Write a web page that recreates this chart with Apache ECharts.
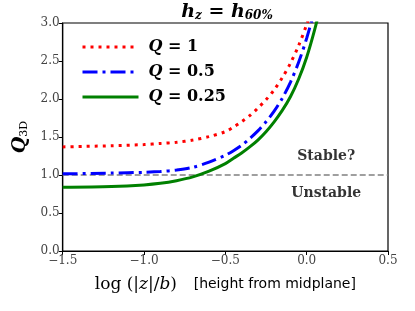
<!DOCTYPE html>
<html>
<head>
<meta charset="utf-8">
<script src="https://cdn.jsdelivr.net/npm/echarts@6/dist/echarts.min.js"></script>
<style>html,body{margin:0;padding:0;background:#fff}#c{width:415px;height:311px}</style>
</head>
<body>
<div id="c"></div>
<script>
const xVals   = [-1.5, -1.2, -1.0, -0.9, -0.8, -0.7, -0.6, -0.5, -0.45, -0.4, -0.35, -0.3, -0.25, -0.2, -0.15, -0.1, -0.05, 0.0, 0.05, 0.1];
const q1Vals  = [1.37, 1.385, 1.40, 1.415, 1.43, 1.46, 1.505, 1.57, 1.63, 1.70, 1.78, 1.88, 1.99, 2.12, 2.28, 2.47, 2.70, 2.98, 3.30, 3.65];
const q05Vals = [1.015, 1.025, 1.035, 1.045, 1.065, 1.10, 1.17, 1.26, 1.32, 1.39, 1.48, 1.58, 1.70, 1.84, 2.01, 2.22, 2.48, 2.80, 3.18, 3.60];
const q025Vals= [0.84, 0.85, 0.87, 0.89, 0.925, 0.975, 1.05, 1.15, 1.22, 1.29, 1.37, 1.46, 1.57, 1.70, 1.85, 2.03, 2.26, 2.55, 2.92, 3.35];
const seriesNames = ['Q = 1', 'Q = 0.5', 'Q = 0.25'];
const thresholdX = [-1.5, 0.5];
const thresholdY = 1.0;
const regionLabels = [{text: 'Stable?', x: 0.12, y: 1.25}, {text: 'Unstable', x: 0.12, y: 0.76}];
const xTicks = {min: -1.5, max: 0.5, step: 0.5};
const yTicks = {min: 0, max: 3, step: 0.5};

const serif = 'DejaVu Serif';
const pairs = ys => xVals.map((x, i) => [x, ys[i]]);

const chart = echarts.init(document.getElementById('c'), null, {renderer: 'canvas'});
const tickFmt = v => (v < 0 ? '\u2212' : '') + Math.abs(v).toFixed(1);

chart.setOption({
  animation: false,
  backgroundColor: '#fff',
  title: {
    text: '{i|h}{s|z}{e| = }{i|h}{s|60%}',
    left: 222, textAlign: 'center', top: -2,
    textStyle: {
      rich: {
        i: {fontFamily: serif, fontStyle: 'italic', fontWeight: 'bold', fontSize: 19, color: '#000'},
        e: {fontFamily: serif, fontWeight: 'bold', fontSize: 19, color: '#000'},
        s: {fontFamily: serif, fontStyle: 'italic', fontWeight: 'bold', fontSize: 12, color: '#000', padding: [6, 0, 0, 0]}
      }
    }
  },
  legend: {
    data: seriesNames,
    orient: 'vertical',
    left: 76, top: 34,
    itemWidth: 56, itemHeight: 12, itemGap: 9,
    itemStyle: {opacity: 0},
    lineStyle: {width: 3},
    formatter: n => '{q|Q}{t|' + n.slice(1) + '}',
    textStyle: {
      padding: [0, 0, 0, 5],
      rich: {
        q: {fontFamily: serif, fontStyle: 'italic', fontWeight: 'bold', fontSize: 16, color: '#000'},
        t: {fontFamily: serif, fontWeight: 'bold', fontSize: 16, color: '#000'}
      }
    }
  },
  grid: {left: 62.7, right: 27, top: 23, bottom: 60, show: true, borderColor: '#000', borderWidth: 1.2, backgroundColor: 'transparent'},
  xAxis: {
    type: 'value', min: xTicks.min, max: xTicks.max, interval: xTicks.step,
    axisLine: {show: true, onZero: false, lineStyle: {color: '#000', width: 1.2}},
    axisTick: {show: true, inside: false, length: 4, lineStyle: {color: '#000'}},
    splitLine: {show: false},
    axisLabel: {formatter: tickFmt, fontFamily: serif, fontSize: 12, color: '#444', margin: 4},
    name: '{m|log (|}{it|z}{m||/}{it|b}{m|)}{g|      }{sn|[height from midplane]}',
    nameLocation: 'middle', nameGap: 25,
    nameTextStyle: {
      rich: {
        m: {fontFamily: serif, fontSize: 17, color: '#000'},
        it: {fontFamily: serif, fontStyle: 'italic', fontSize: 17, color: '#000'},
        g: {fontSize: 10},
        sn: {fontFamily: 'DejaVu Sans', fontSize: 14, color: '#000'}
      }
    }
  },
  yAxis: {
    type: 'value', min: yTicks.min, max: yTicks.max, interval: yTicks.step,
    axisLine: {show: true, onZero: false, lineStyle: {color: '#000', width: 1.2}},
    axisTick: {show: true, inside: false, length: 4, lineStyle: {color: '#000'}},
    splitLine: {show: false},
    axisLabel: {formatter: tickFmt, fontFamily: serif, fontSize: 12, color: '#444', margin: 3},
    name: '{q|Q}{s|3D}',
    nameLocation: 'middle', nameGap: 24, nameRotate: 90,
    nameTextStyle: {
      rich: {
        q: {fontFamily: serif, fontStyle: 'italic', fontWeight: 'bold', fontSize: 19, color: '#000'},
        s: {fontFamily: serif, fontSize: 11, color: '#000', padding: [8, 0, 0, 0]}
      }
    }
  },
  series: [
    {
      name: 'threshold', type: 'line', data: thresholdX.map(x => [x, thresholdY]),
      symbol: 'none', silent: true, z: 1,
      lineStyle: {color: '#808080', width: 1.5, type: [6, 3]}
    },
    {
      name: seriesNames[0], type: 'line', data: pairs(q1Vals), smooth: 0.3, symbol: 'none', z: 3,
      itemStyle: {color: '#ff0000'},
      lineStyle: {color: '#ff0000', width: 3, type: [3, 5], cap: 'butt'}
    },
    {
      name: seriesNames[1], type: 'line', data: pairs(q05Vals), smooth: 0.3, symbol: 'none', z: 3,
      itemStyle: {color: '#0000ff'},
      lineStyle: {color: '#0000ff', width: 3, type: [15, 5, 3, 5], cap: 'butt'}
    },
    {
      name: seriesNames[2], type: 'line', data: pairs(q025Vals), smooth: 0.3, symbol: 'none', z: 2,
      itemStyle: {color: '#008000'},
      lineStyle: {color: '#008000', width: 3, type: 'solid'}
    },
    {
      name: 'labels', type: 'scatter', symbolSize: 0, silent: true,
      data: regionLabels.map(d => ({value: [d.x, d.y], name: d.text})),
      label: {show: true, position: 'inside', formatter: p => p.name,
        fontFamily: serif, fontWeight: 'bold', fontSize: 14, color: '#000'}
    }
  ]
});
</script>
</body>
</html>
